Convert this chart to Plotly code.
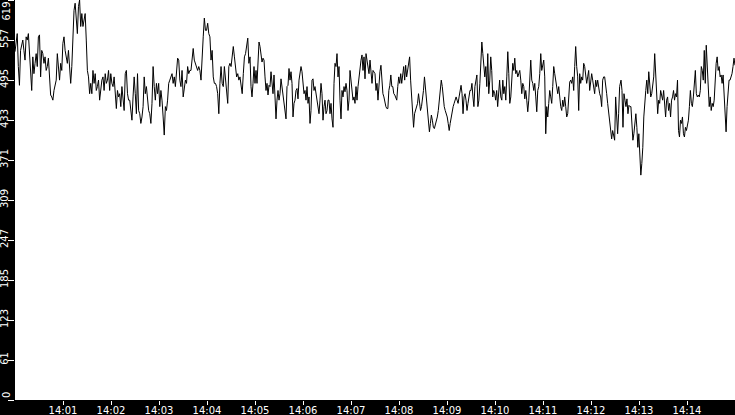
import plotly.graph_objects as go
import pandas as pd

day = "2000-01-01 "

# Segment values
seg_a = [539,560,567,516,487,541,552,557,541,526,
         562,557,567,541,500,479,531,505,521,536,
         516,562,565,500,541,536,521,531,510,516,
         529,500,472,469,464,479,490,495,536,510,
         495,521,510,552,562,541,531,521,541,521,
         490,516,567,603,614,588,567,609,619,578,
         598,578,593,598,557,510,500,474,490,474,
         510,490,505,479,485,495,464,485,495,500,
         479,505,490,495,510,479,505,490,485,500,
         469,451,479,469,474,454,485,464,448,505,
         510,474,464,464,448,433,469,500,474,443,
         505,448,443,428,438,454,500,474,485,464,
         448,443,428,459,516,485,464,490,474,490,
         454,479,464,438,410,454,448,464,490,495,
         500,505,490,500,485,505,529,526,495,485,
         510,469,479,495,490,516,505,510,510,531,
         544,526,521,516,510,516,510,495,541,562,
         591,572,572,583,567,562,526,541,500,490,
         490,485,474,443,490,516,490,485,516,500,
         479,459,516,521,516,531,547,531,516,500,
         505,495,500,485,474,505,531,536,547,560,
         521,531]
seg_b = [485,469,490,516,490,510,490,516,554,547,536,523,529,526,500,479,490,472,487,485,
         508,495,474,503,459,435,464,479,464,474,497,485,472,464,448,435,485,487,513,495,
         508,490,438,459,464,479,482,466,495,505,516,508,485,474,479,464,485,459,469,428,
         448,495,497,479,485,474,459,454,443,464,490,474,433,454,464,443,448,464,464,443,
         459,435,422,490,521,516,536,500,516,464,435,479,469,485,477,490,479,448,464,510,
         495,474,464,469,459,485,464,485,500,516,526,534,510,531,497,536,526,516,505,526,
         505,490,510,508]
seg_c = [505,479,490,464,490,508,518,495,474,469,459,454,451,451,479,487,503,485,485,474,
         472,466,464,485,500,490,505,490,500,516,495,518,500,510,516,531,495,464,438,422,
         443,448,454,459,474,459,448,454,464,479,500,482,469,454,438,415,428,441,433,422,
         420,425,433,438,448,464,479,495,485,464,454,448,443,438,428,417,428,438,448,454,
         459,464,469,464,459,469,479,487,474,443,469,474,464,448,459,469,479,479,490,469,
         454,485,495,503,454,464,490,531,554,536,510,500,516,485,536,474,495,531,510,469,
         479,474,464,479,454,479,495]
seg_d = [490,469,464,495,474,485,464,500,539,505,459,469,495,521,510,529,505,510,500,508,
         510,495,474,490,485,466,479,464,446,464,490,526,495,490,479,490,469,446,479,485,
         505,536,510,521,526,500,412,454,438,459,479,469,459,485,516,505,495,479,474,485,
         464,454,448,464,454,469,454,438,443,464,492,495,490,500,479,516,547,516,500,448,
         505,490,500,495,521,516,505,490,500,510,479,495,505,495,479,474,495,485,495,479,
         474,469,454,495,500,500,490,474,459,443,433,417,404,417,407,402,469,438,412,443,
         485]
seg_e = [495,479,422,474,464,454,466,443,456,454,454,422,402,412,428,443,422,391,412,371,
         348,366,391,438,464,479,495,474,508,490,469,474,485,500,536,495,485,443,464,459,
         479,469,464,479,454,438,464,469,448,459,438,464,469,479,464,474,469,495,417,407,
         433,428,438,412,407,422,417,428,433,454,479,459,454,469,495,510,474,469,472,469,
         479,516,510,495,541,490,549,516,464,454,469,448,459,454,464,505,521,531,510,516,
         500,503,490,503,464,438,415,454,479,495,495,500,505,516,529,518]

seg_starts = ["14:00:00", "14:04:55", "14:07:30", "14:10:06", "14:12:37.5"]
seg_ends = ["14:04:53.75", "14:07:28.75", "14:10:05.8", "14:12:35.8", "14:15:00"]

y_tick_vals = [0, 61.9, 123.8, 185.7, 247.6, 309.5, 371.4, 433.3, 495.2, 557.1, 619]
y_tick_text = ["", "61", "123", "185", "247", "309", "371", "433", "495", "557", ""]
x_tick_labels = ["14:01", "14:02", "14:03", "14:04", "14:05", "14:06", "14:07",
                 "14:08", "14:09", "14:10", "14:11", "14:12", "14:13", "14:14"]

times = []
values = []
for s, e, v in zip(seg_starts, seg_ends, [seg_a, seg_b, seg_c, seg_d, seg_e]):
    times.extend(pd.date_range(day + s, day + e, periods=len(v)))
    values.extend(v)

fig = go.Figure()
fig.add_trace(go.Scatter(x=times, y=values, mode="lines",
                         line=dict(color="black", width=1), hoverinfo="skip"))

font = dict(family="DejaVu Sans", size=10, color="white")

fig.update_layout(
    width=735, height=415,
    margin=dict(l=15, r=0, t=0, b=15, pad=0),
    paper_bgcolor="black", plot_bgcolor="white",
    showlegend=False,
    font=font,
    xaxis=dict(
        type="date",
        range=[day + "14:00:00", day + "14:15:00"],
        tickvals=[day + t + ":00" for t in x_tick_labels],
        ticktext=x_tick_labels,
        ticks="outside", ticklen=4, tickwidth=1, tickcolor="white",
        showgrid=False, zeroline=False, showline=False,
        tickfont=font, automargin=False, ticklabelstandoff=-3,
    ),
    yaxis=dict(
        range=[0, 619],
        tickvals=y_tick_vals, ticktext=y_tick_text,
        ticks="outside", ticklen=6, tickwidth=1, tickcolor="white",
        tickangle=-90, showgrid=False, zeroline=False, showline=False,
        tickfont=font, automargin=False, ticklabelstandoff=-4,
    ),
    annotations=[
        dict(text="619", xref="paper", yref="paper", x=-0.0125, y=1.0,
             xanchor="center", yanchor="top", textangle=-90, showarrow=False,
             font=font),
        dict(text="0", xref="paper", yref="paper", x=-0.0125, y=0.0,
             xanchor="center", yanchor="bottom", textangle=-90, showarrow=False,
             font=font),
    ],
)

fig.write_html(
    "out.html",
    config={"displayModeBar": False},
    post_script="document.body.style.margin='0';document.body.style.background='black';",
)
